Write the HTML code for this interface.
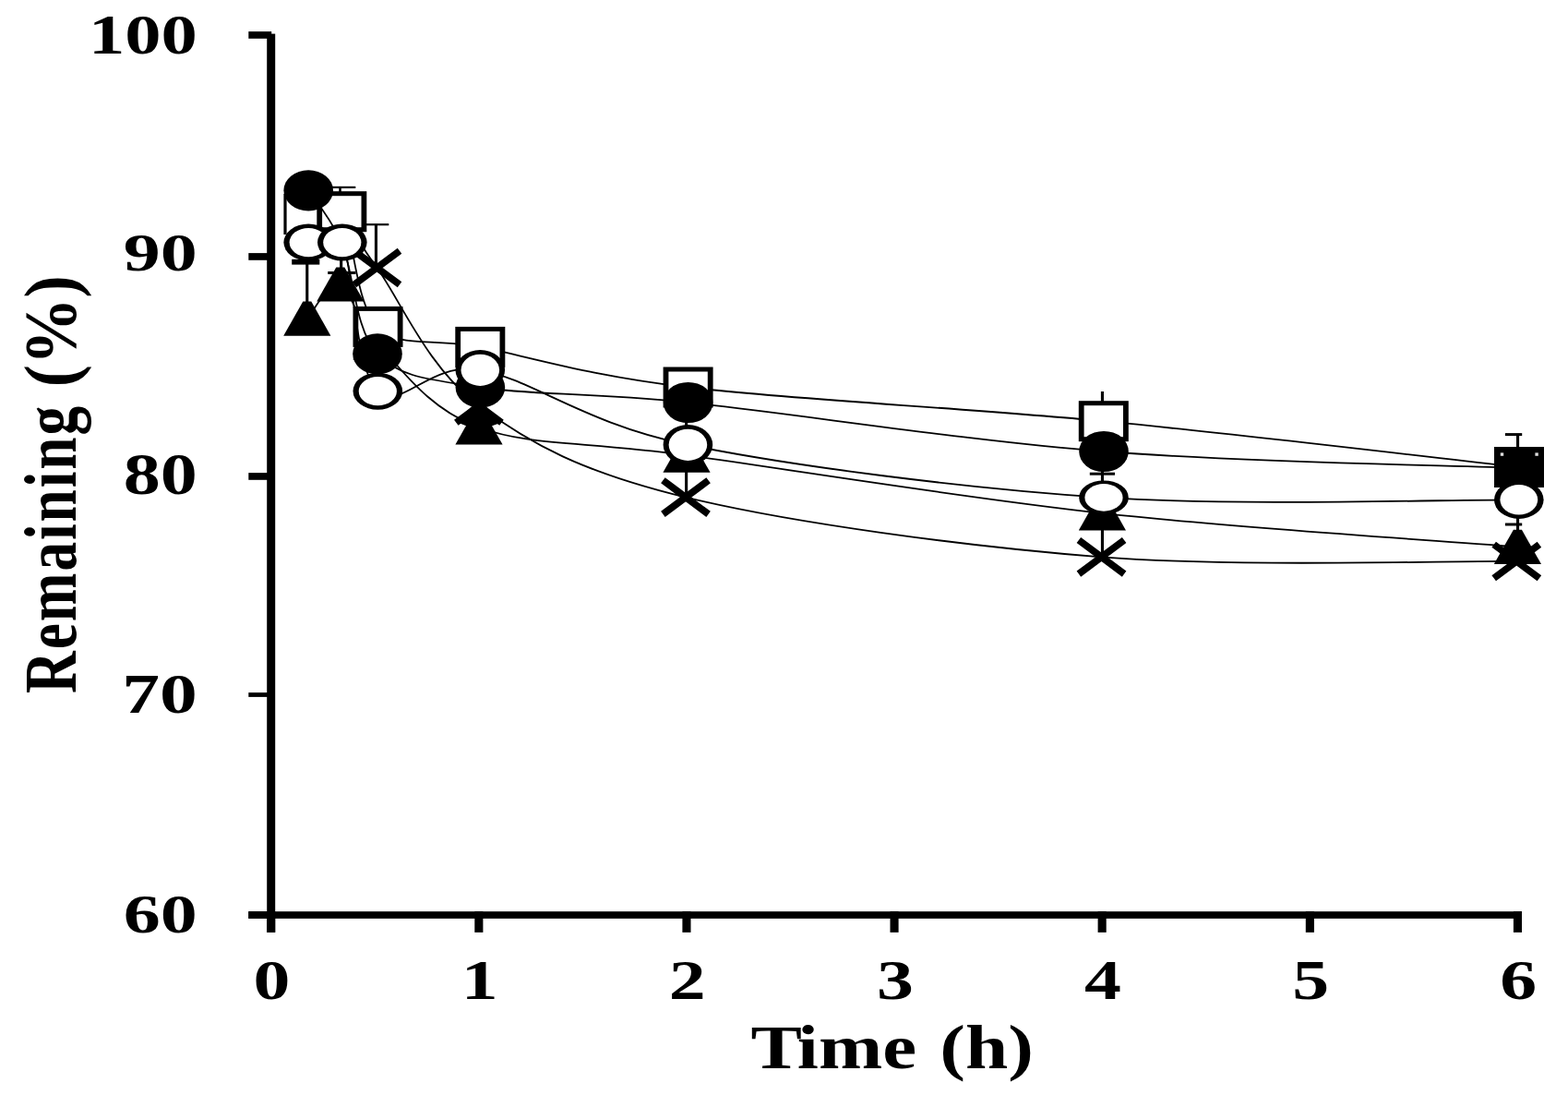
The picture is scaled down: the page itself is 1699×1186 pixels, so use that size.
<!DOCTYPE html>
<html lang="en">
<head>
<meta charset="utf-8">
<title>Remaining vs Time</title>
<style>
html,body{margin:0;padding:0;background:#fff;}
body{width:1699px;height:1186px;overflow:hidden;}
svg{display:block;filter:blur(0.7px);}
</style>
</head>
<body>
<svg width="1699" height="1186" viewBox="0 0 1699 1186">
<rect width="1699" height="1186" fill="#fff"/>
<g id="axes" fill="#000">
<rect x="289.2" y="36.6" width="9.0" height="973.3"/>
<rect x="269.3" y="987.2" width="1379.7" height="7.7"/>
<rect x="269.3" y="34.1" width="24.9" height="7.7"/>
<rect x="269.3" y="274.1" width="24.9" height="7.7"/>
<rect x="269.3" y="512.1" width="24.9" height="7.7"/>
<rect x="269.3" y="750.1" width="24.9" height="4.8"/>
<rect x="269.3" y="987.2" width="24.9" height="7.7"/>
<rect x="289.1" y="987.2" width="9.1" height="22.7"/>
<rect x="514.3" y="987.2" width="9.1" height="22.7"/>
<rect x="739.4" y="987.2" width="9.1" height="22.7"/>
<rect x="964.5" y="987.2" width="9.1" height="22.7"/>
<rect x="1189.6" y="987.2" width="9.1" height="22.7"/>
<rect x="1414.8" y="987.2" width="9.1" height="22.7"/>
<rect x="1639.9" y="987.2" width="9.1" height="22.7"/>
</g>
<g id="s-cross">
<path d="M332.0,226.0 C338.3,227.7 357.3,225.3 370.0,236.0 C382.7,246.7 383.6,256.1 408.4,290.0 C433.2,323.9 463.1,398.1 518.9,439.5 C574.7,480.9 630.6,511.3 743.0,538.6 C855.4,565.9 1043.5,591.7 1193.5,603.3 C1343.5,614.9 1568.3,607.2 1643.3,608.0" fill="none" stroke="#000" stroke-width="1.8"/>
<rect x="405.9" y="243.0" width="3.1" height="47.0" fill="#000"/>
<rect x="393.0" y="242.1" width="28.3" height="2.2" fill="#000"/>
<rect x="742.1" y="500.0" width="3.1" height="40.0" fill="#000"/>
<rect x="1192.9" y="560.0" width="3.1" height="43.0" fill="#000"/>
<path d="M383.8,271.7 L433.0,308.3 M383.8,308.3 L433.0,271.7" fill="none" stroke="#000" stroke-width="7.6" stroke-linecap="butt"/>
<path d="M494.3,457.8 L518.9,439.5 L543.5,457.8" fill="none" stroke="#000" stroke-width="7.6"/>
<path d="M718.4,520.3 L767.6,556.9 M718.4,556.9 L767.6,520.3" fill="none" stroke="#000" stroke-width="7.6" stroke-linecap="butt"/>
<path d="M1168.9,585.0 L1218.1,621.6 M1168.9,621.6 L1218.1,585.0" fill="none" stroke="#000" stroke-width="7.6" stroke-linecap="butt"/>
<path d="M1618.7,589.7 L1667.9,626.3 M1618.7,626.3 L1667.9,589.7" fill="none" stroke="#000" stroke-width="7.6" stroke-linecap="butt"/>
</g>
<g id="s-triangle">
<path d="M332.8,345.2 C338.8,339.0 356.3,303.7 368.8,308.0 C381.3,312.3 383.0,345.2 408.0,371.0 C433.0,396.8 463.0,442.6 519.0,463.0 C575.0,483.4 631.4,477.6 744.0,493.1 C856.6,508.6 1044.3,539.4 1194.4,555.9 C1344.5,572.4 1569.4,586.2 1644.4,592.3" fill="none" stroke="#000" stroke-width="1.8"/>
<rect x="331.2" y="284.0" width="3.1" height="46.0" fill="#000"/>
<rect x="316.2" y="280.8" width="30.1" height="5.8" fill="#000"/>
<rect x="355.2" y="294.0" width="30.3" height="3.0" fill="#000"/>
<rect x="368.1" y="281.0" width="3.1" height="11.0" fill="#000"/>
<path d="M328.3,326.6 L337.3,326.6 L358.4,363.8 L307.2,363.8 Z" fill="#000"/>
<path d="M364.3,289.4 L373.3,289.4 L394.4,326.6 L343.2,326.6 Z" fill="#000"/>
<path d="M403.5,352.4 L412.5,352.4 L433.6,389.6 L382.4,389.6 Z" fill="#000"/>
<path d="M514.5,444.4 L523.5,444.4 L544.6,481.6 L493.4,481.6 Z" fill="#000"/>
<path d="M739.5,474.5 L748.5,474.5 L769.6,511.7 L718.4,511.7 Z" fill="#000"/>
<path d="M1189.9,537.3 L1198.9,537.3 L1220.0,574.5 L1168.8,574.5 Z" fill="#000"/>
<path d="M1639.9,573.7 L1648.9,573.7 L1670.0,610.9 L1618.8,610.9 Z" fill="#000"/>
<path d="M511.9,439.5 L525.5,439.5 L545.0,457.0 L531.0,462.0 L507.0,462.0 L494.5,457.0 Z" fill="#000"/>
</g>
<g id="s-square">
<path d="M334.4,232.0 C340.4,231.5 357.8,208.9 370.3,229.2 C382.8,249.5 384.5,329.4 409.5,353.9 C434.5,378.3 464.3,365.0 520.3,375.9 C576.3,386.8 633.0,406.1 745.6,419.5 C858.2,432.9 1045.7,441.8 1195.8,456.2 C1345.9,470.6 1571.0,497.7 1646.0,506.0" fill="none" stroke="#000" stroke-width="1.8"/>
<rect x="367.2" y="202.8" width="2.6" height="7.2" fill="#000"/>
<rect x="355.0" y="201.8" width="30.3" height="2.2" fill="#000"/>
<rect x="1192.9" y="424.0" width="3.1" height="12.0" fill="#000"/>
<rect x="1643.0" y="470.5" width="3.1" height="15.5" fill="#000"/>
<rect x="1630.9" y="469.1" width="18.3" height="3.0" fill="#000"/>
<rect x="307.4" y="210.0" width="54.0" height="44.0" fill="#fff"/>
<rect x="307.4" y="210.0" width="3.2" height="44.0" fill="#000"/>
<rect x="343.3" y="207.2" width="54.0" height="44.0" fill="#000"/>
<rect x="349.1" y="212.2" width="42.4" height="34.0" fill="#fff"/>
<rect x="382.5" y="331.9" width="54.0" height="44.0" fill="#000"/>
<rect x="388.3" y="336.9" width="42.4" height="34.0" fill="#fff"/>
<rect x="493.3" y="353.9" width="54.0" height="44.0" fill="#000"/>
<rect x="499.1" y="358.9" width="42.4" height="34.0" fill="#fff"/>
<rect x="718.6" y="397.5" width="54.0" height="44.0" fill="#000"/>
<rect x="724.4" y="402.5" width="42.4" height="34.0" fill="#fff"/>
<rect x="1168.8" y="434.2" width="54.0" height="44.0" fill="#000"/>
<rect x="1174.6" y="439.2" width="42.4" height="34.0" fill="#fff"/>
<rect x="1619.0" y="484.0" width="54.0" height="44.0" fill="#000"/>
<rect x="1624.8" y="489.0" width="42.4" height="34.0" fill="#000"/>
<rect x="1625.8" y="490.4" width="3.4" height="3.4" fill="#ddd"/>
<rect x="1663.4" y="490.4" width="3.4" height="3.4" fill="#ddd"/>
</g>
<g id="s-filled-circle">
<path d="M334.2,206.3 C340.3,216.0 358.3,235.0 370.8,264.5 C383.3,294.0 384.1,357.5 409.0,383.3 C433.9,409.1 464.3,410.7 520.4,419.5 C576.5,428.3 633.0,424.4 745.6,436.0 C858.2,447.6 1045.9,477.2 1196.0,489.0 C1346.1,500.8 1571.0,504.0 1646.0,507.0" fill="none" stroke="#000" stroke-width="1.8"/>
<rect x="742.1" y="455.0" width="3.1" height="7.0" fill="#000"/>
<rect x="1192.9" y="508.0" width="3.1" height="16.0" fill="#000"/>
<rect x="1180.8" y="511.7" width="27.2" height="3.0" fill="#000"/>
<ellipse cx="334.2" cy="206.3" rx="26.8" ry="22.1" fill="#000"/>
<ellipse cx="409.0" cy="383.3" rx="26.8" ry="22.1" fill="#000"/>
<ellipse cx="520.4" cy="419.5" rx="26.8" ry="22.1" fill="#000"/>
<ellipse cx="745.6" cy="436.0" rx="26.8" ry="22.1" fill="#000"/>
<ellipse cx="1196.0" cy="489.0" rx="26.8" ry="22.1" fill="#000"/>
</g>
<g id="s-open-circle">
<path d="M334.2,262.6 C340.3,262.6 358.3,235.8 370.8,262.6 C383.3,289.5 384.4,400.7 409.3,423.7 C434.2,446.7 464.3,391.1 520.3,400.8 C576.3,410.5 632.8,458.8 745.4,481.8 C858.0,504.8 1045.9,529.0 1196.0,538.9 C1346.1,548.8 1570.8,540.9 1645.8,541.3" fill="none" stroke="#000" stroke-width="1.8"/>
<rect x="1643.0" y="560.0" width="3.1" height="16.0" fill="#000"/>
<rect x="1630.9" y="566.5" width="18.3" height="3.0" fill="#000"/>
<ellipse cx="334.2" cy="262.6" rx="26.8" ry="20.0" fill="#000"/>
<ellipse cx="334.2" cy="262.6" rx="20.6" ry="15.6" fill="#fff"/>
<ellipse cx="370.8" cy="262.6" rx="26.8" ry="20.0" fill="#000"/>
<ellipse cx="370.8" cy="262.6" rx="20.6" ry="15.6" fill="#fff"/>
<ellipse cx="409.3" cy="423.7" rx="26.8" ry="20.0" fill="#000"/>
<ellipse cx="409.3" cy="423.7" rx="20.6" ry="15.6" fill="#fff"/>
<ellipse cx="520.3" cy="400.8" rx="26.8" ry="21.7" fill="#000"/>
<ellipse cx="520.3" cy="400.8" rx="20.8" ry="17.1" fill="#fff"/>
<ellipse cx="745.4" cy="481.8" rx="26.8" ry="21.7" fill="#000"/>
<ellipse cx="745.4" cy="481.8" rx="20.8" ry="17.1" fill="#fff"/>
<ellipse cx="1196.0" cy="538.9" rx="26.8" ry="18.5" fill="#000"/>
<ellipse cx="1196.0" cy="538.9" rx="20.6" ry="14.8" fill="#fff"/>
<ellipse cx="1645.8" cy="541.3" rx="26.8" ry="20.6" fill="#000"/>
<ellipse cx="1645.8" cy="541.3" rx="20.4" ry="16.2" fill="#fff"/>
</g>
<g id="labels" font-family="'Liberation Serif', 'DejaVu Serif', serif" font-weight="bold" fill="#000">
<text transform="translate(213.80,58.30) scale(1.2885,1)" font-size="61.00" text-anchor="end">100</text>
<text transform="translate(213.80,293.20) scale(1.3841,1)" font-size="57.80" text-anchor="end">90</text>
<text transform="translate(213.80,534.50) scale(1.2780,1)" font-size="62.60" text-anchor="end">80</text>
<text transform="translate(213.80,771.50) scale(1.3145,1)" font-size="62.00" text-anchor="end">70</text>
<text transform="translate(213.80,1009.50) scale(1.3746,1)" font-size="58.20" text-anchor="end">60</text>
<text transform="translate(294.50,1081.60) scale(1.3200,1)" font-size="60.50" text-anchor="middle">0</text>
<text transform="translate(519.62,1081.60) scale(1.3200,1)" font-size="60.50" text-anchor="middle">1</text>
<text transform="translate(744.74,1081.60) scale(1.3200,1)" font-size="60.50" text-anchor="middle">2</text>
<text transform="translate(969.86,1081.60) scale(1.3200,1)" font-size="60.50" text-anchor="middle">3</text>
<text transform="translate(1194.98,1081.60) scale(1.3200,1)" font-size="60.50" text-anchor="middle">4</text>
<text transform="translate(1420.10,1081.60) scale(1.3200,1)" font-size="60.50" text-anchor="middle">5</text>
<text transform="translate(1645.22,1081.60) scale(1.3200,1)" font-size="60.50" text-anchor="middle">6</text>
<text transform="translate(813.6,1157.0) scale(1.2320,1)" font-size="67.5" text-anchor="start"><tspan dx="0 -3.0">Time</tspan> <tspan dx="3.6">(h)</tspan></text>
<text transform="translate(82.0,750.9) rotate(-90) scale(1,1.2640)" font-size="63.2" text-anchor="start"><tspan letter-spacing="2.0">Remaining</tspan> <tspan x="331.6" font-size="63.3" textLength="121.0" lengthAdjust="spacingAndGlyphs">(%)</tspan></text>
</g>
</svg>
</body>
</html>
